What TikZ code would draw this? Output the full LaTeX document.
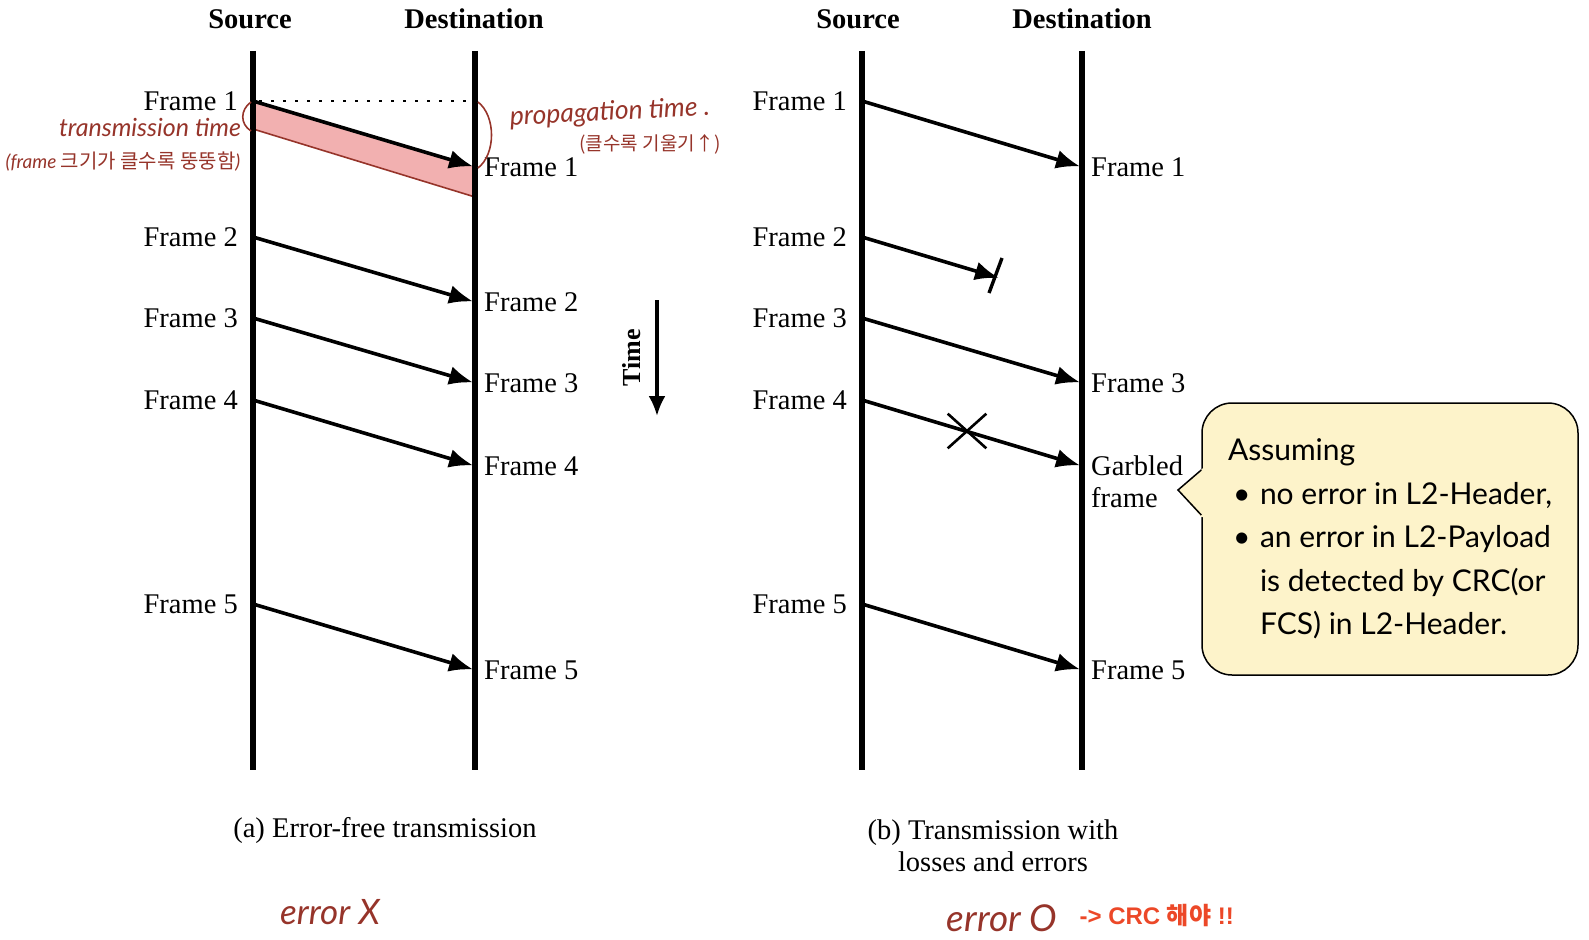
\documentclass[tikz,border=0pt]{standalone}
\usepackage{fontspec}
\usepackage{tikz}
\usetikzlibrary{arrows.meta, positioning, shapes.misc}
\setmainfont{Liberation Serif}
\newfontfamily\notefont{Lato}
\newfontfamily\handfont{Lato}
\newfontfamily\kofont{Noto Sans CJK KR}
\newfontfamily\crcfont{Liberation Sans}
\definecolor{penbrown}{RGB}{150,52,42}
\definecolor{bandpink}{RGB}{242,176,176}
\definecolor{notefill}{RGB}{253,243,202}
\definecolor{crcred}{RGB}{236,72,40}

\begin{document}
\begin{tikzpicture}[
    x=1pt, y=-1pt,
    node distance=15pt,
    head/.style={font=\bfseries\fontsize{28.5}{30}\selectfont, inner sep=0pt},
    lbl/.style={font=\fontsize{28.5}{32}\selectfont, inner sep=0pt},
    life/.style={line width=5.5pt},
    msg/.style={-{Latex[length=24pt,width=19pt]}, line width=3.6pt, shorten >=2pt},
    hand/.style={text=penbrown, font=\handfont\itshape\fontsize{25}{28}\selectfont, inner sep=0pt},
    pen/.style={draw=penbrown, line width=1.6pt},
    note/.style={rectangle, draw, line width=1.5pt, fill=notefill, rounded corners=30pt, minimum width=376pt, minimum height=272pt, align=left, font=\notefont\fontsize{30}{43.5}\selectfont}
]
    \useasboundingbox (0,0) rectangle (1589,939);

    % (a) error-free transmission
    \node[head] (srcA) at (250,19) {Source};
    \node[head] (dstA) at (474,19) {Destination};
    \coordinate (srcAtop) at (253,51);
    \coordinate (srcAbot) at (253,770);
    \coordinate (dstAtop) at (475,51);
    \coordinate (dstAbot) at (475,770);

    \coordinate (sA1) at (253,101);
    \coordinate (dA1) at (475,167);
    \coordinate (sA2) at (253,237);
    \coordinate (dA2) at (475,302);
    \coordinate (sA3) at (253,318);
    \coordinate (dA3) at (475,383);
    \coordinate (sA4) at (253,400);
    \coordinate (dA4) at (475,466);
    \coordinate (sA5) at (253,604);
    \coordinate (dA5) at (475,670);
    \coordinate (bandA) at (253,129);
    \coordinate (bandB) at (475,197);

    % transmission time band
    \fill[bandpink] (sA1) -- (dA1) -- (bandB) -- (bandA) -- cycle;
    \draw[pen] (bandA) -- (bandB);
    \draw[dash pattern=on 3pt off 9pt, line width=1.5pt] ([xshift=6pt]sA1) -- ([xshift=-4pt]sA1 -| dA1);

    \draw[life] (srcAtop) -- (srcAbot);
    \draw[life] (dstAtop) -- (dstAbot);

    \node[lbl, left=of sA1] (fsA1) {Frame 1};
    \node[lbl, left=of sA2] (fsA2) {Frame 2};
    \node[lbl, left=of sA3] (fsA3) {Frame 3};
    \node[lbl, left=of sA4] (fsA4) {Frame 4};
    \node[lbl, left=of sA5] (fsA5) {Frame 5};
    \node[lbl, right=9pt of dA1] (fdA1) {Frame 1};
    \node[lbl, right=9pt of dA2] (fdA2) {Frame 2};
    \node[lbl, right=9pt of dA3] (fdA3) {Frame 3};
    \node[lbl, right=9pt of dA4] (fdA4) {Frame 4};
    \node[lbl, right=9pt of dA5] (fdA5) {Frame 5};

    \draw[msg] (sA1) -- (dA1);
    \draw[msg] (sA2) -- (dA2);
    \draw[msg] (sA3) -- (dA3);
    \draw[msg] (sA4) -- (dA4);
    \draw[msg] (sA5) -- (dA5);

    \node[lbl] (capA) at (385,830) {(a) Error-free transmission};

    % time axis
    \coordinate (timeTop) at (657,300);
    \coordinate (timeBot) at (657,416);
    \draw[-{Latex[length=20pt,width=17pt]}, line width=3.2pt] (timeTop) -- (timeBot);
    \node[head, rotate=90, font=\bfseries\fontsize{26}{28}\selectfont] (time) at (632,358) {Time};

    % (b) transmission with losses and errors
    \node[head] (srcB) at (858,19) {Source};
    \node[head] (dstB) at (1082,19) {Destination};
    \coordinate (srcBtop) at (862,51);
    \coordinate (srcBbot) at (862,770);
    \coordinate (dstBtop) at (1082,51);
    \coordinate (dstBbot) at (1082,770);

    \coordinate (sB1) at (862,101);
    \coordinate (dB1) at (1082,167);
    \coordinate (sB2) at (862,237);
    \coordinate (lost) at (999,278);
    \coordinate (cutTop) at (1002,258);
    \coordinate (cutBot) at (989,293);
    \coordinate (sB3) at (862,318);
    \coordinate (dB3) at (1082,383);
    \coordinate (sB4) at (862,400);
    \coordinate (dB4) at (1082,466);
    \coordinate (sB5) at (862,604);
    \coordinate (dB5) at (1082,670);

    \draw[life] (srcBtop) -- (srcBbot);
    \draw[life] (dstBtop) -- (dstBbot);

    \node[lbl, left=of sB1] (fsB1) {Frame 1};
    \node[lbl, left=of sB2] (fsB2) {Frame 2};
    \node[lbl, left=of sB3] (fsB3) {Frame 3};
    \node[lbl, left=of sB4] (fsB4) {Frame 4};
    \node[lbl, left=of sB5] (fsB5) {Frame 5};
    \node[lbl, right=9pt of dB1] (fdB1) {Frame 1};
    \node[lbl, right=9pt of dB3] (fdB3) {Frame 3};
    \node[lbl, right=9pt of dB4, yshift=-16pt, align=left] (fdB4) {Garbled\\frame};
    \node[lbl, right=9pt of dB5] (fdB5) {Frame 5};

    \draw[msg] (sB1) -- (dB1);
    \draw[msg, shorten >=0pt] (sB2) -- (lost);
    \draw[line width=3.4pt] (cutTop) -- (cutBot);
    \draw[msg] (sB3) -- (dB3);
    \draw[msg] (sB4) -- (dB4);
    \draw[msg] (sB5) -- (dB5);
    \node[cross out, draw, line width=2.6pt, minimum width=36pt, minimum height=32pt, inner sep=0pt] (garble) at (967,431) {};

    \node[lbl, align=center] (capB) at (993,846) {(b) Transmission with\\losses and errors};

    % CRC note
    \node[note] (note) at (1390,539) {Assuming\\
        \hspace*{5pt}\makebox[27pt][l]{•}no error in L2-Header,\\
        \hspace*{5pt}\makebox[27pt][l]{•}an error in L2-Payload\\
        \hspace*{32pt}is detected by CRC(or\\
        \hspace*{32pt}FCS) in L2-Header.};
    \coordinate (tip) at (1178,490);
    \fill[notefill] ([yshift=71pt]note.west) ++(2pt,0) -- (tip) -- ([yshift=22pt]note.west) -- ++(2pt,0) -- cycle;
    \draw[line width=1.5pt] ([yshift=69pt]note.west) -- (tip) -- ([yshift=24pt]note.west);

    % handwritten remarks
    \draw[pen] (251,102) .. controls (240,110) and (240,124) .. (251,131);
    \draw[pen] (478,102) .. controls (496,116) and (496,154) .. (478,168);
    \node[hand] (ttime) at (150,127) {transmission time};
    \node[hand, font=\handfont\itshape\fontsize{19}{22}\selectfont] (tsize) at (123,162) {(frame {\kofont\fontsize{20}{22}\selectfont 크기가 클수록 뚱뚱함})};
    \node[hand, rotate=3, font=\handfont\itshape\fontsize{26.5}{28}\selectfont] (ptime) at (610,113) {propagation time .};
    \node[hand, font=\kofont\fontsize{19}{22}\selectfont] (pslope) at (650,144) {(클수록 기울기↑)};
    \node[hand, font=\handfont\itshape\fontsize{35}{38}\selectfont] (errA) at (330,912) {error X};
    \node[hand, font=\handfont\itshape\fontsize{37}{40}\selectfont] (errB) at (1002,918) {error O};
    \node[text=crcred, font=\crcfont\bfseries\fontsize{24}{26}\selectfont, inner sep=0pt, right=22pt of errB, yshift=3pt] (crc) {-> CRC {\kofont\bfseries 해야} !!};
\end{tikzpicture}
\end{document}
